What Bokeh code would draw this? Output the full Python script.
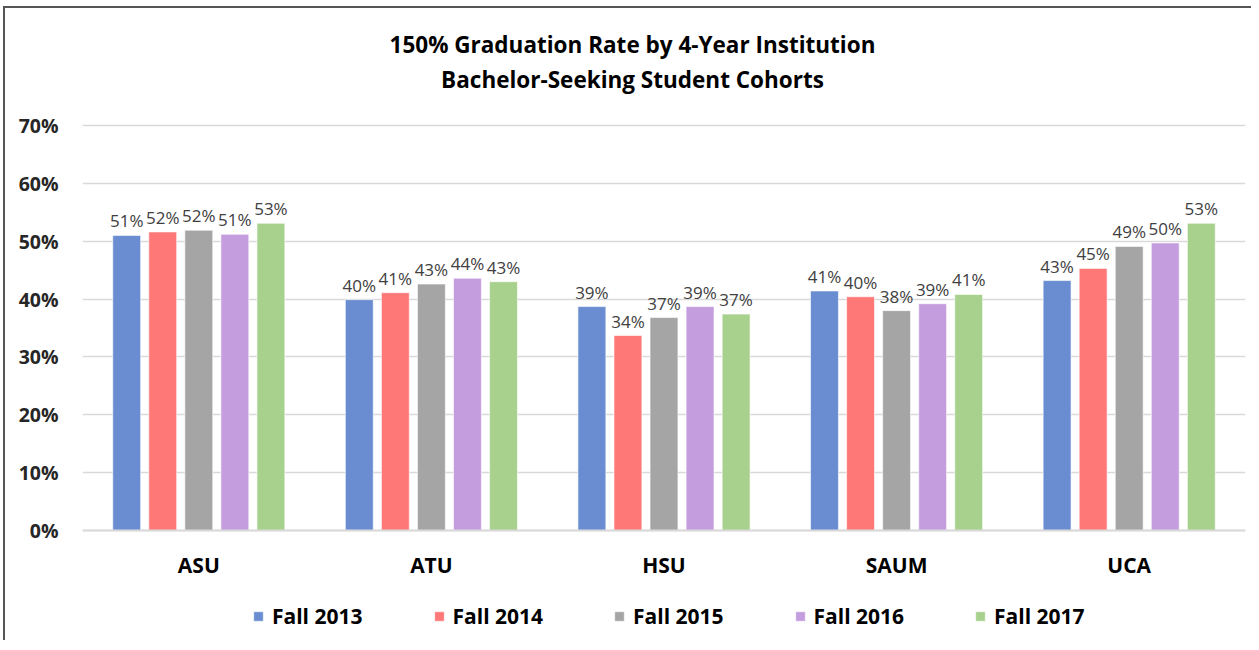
from bokeh.plotting import figure
from bokeh.models import (ColumnDataSource, FactorRange, Legend, LegendItem, LabelSet, Label,
                          NumeralTickFormatter, FixedTicker)
from bokeh.core.properties import value
from bokeh.transform import dodge
from bokeh.embed import file_html
from bokeh.resources import INLINE

institutions = ["ASU", "ATU", "HSU", "SAUM", "UCA"]
series_names = ["Fall 2013", "Fall 2014", "Fall 2015", "Fall 2016", "Fall 2017"]
fall_2013 = [0.510, 0.399, 0.387, 0.414, 0.432]
fall_2014 = [0.516, 0.411, 0.337, 0.404, 0.453]
fall_2015 = [0.519, 0.426, 0.368, 0.380, 0.491]
fall_2016 = [0.512, 0.436, 0.387, 0.392, 0.497]
fall_2017 = [0.531, 0.430, 0.374, 0.408, 0.531]
colors = ["#6A8DD1", "#FF7878", "#A5A5A5", "#C49DDF", "#A9D18E"]
y_ticks = [0, 0.1, 0.2, 0.3, 0.4, 0.5, 0.6, 0.7]
title_lines = ["150% Graduation Rate by 4-Year Institution", "Bachelor-Seeking Student Cohorts"]

all_series = [fall_2013, fall_2014, fall_2015, fall_2016, fall_2017]

FONT = "Open Sans"

# frame spans the whole card; the 0-70% scale is kept by the range ends
p = figure(x_range=FactorRange(*institutions, range_padding=0), y_range=(-0.1867, 0.9005),
           width=1248, height=634, output_backend="svg", toolbar_location=None,
           min_border_left=77, min_border_right=8, min_border_top=1, min_border_bottom=4)

for txt, yy in zip(title_lines, [594, 559]):
    p.add_layout(Label(x=550, y=yy, x_units="screen", y_units="screen", text=txt,
                       text_align="center", text_baseline="middle", text_font=FONT,
                       text_font_size="22.5px", text_font_style="bold", text_color="#000000"))

offsets = [-0.31, -0.155, 0.0, 0.155, 0.31]
items = []
for name, vals, col, off in zip(series_names, all_series, colors, offsets):
    src = ColumnDataSource(dict(inst=institutions, val=vals,
                                lab=["%d%%" % round(v * 100) for v in vals]))
    r = p.vbar(x=dodge("inst", off, range=p.x_range), top="val", width=0.12, source=src,
               fill_color=col, line_color="#FFFFFF", line_alpha=0.6, line_width=1)
    items.append(LegendItem(label=name, renderers=[r]))
    p.add_layout(LabelSet(x=dodge("inst", off, range=p.x_range), y="val", text="lab",
                          source=src, text_align="center", text_baseline="bottom",
                          y_offset=3, text_font=value(FONT), text_font_size=value("17px"),
                          text_color="#404040"))

legend = Legend(items=items, orientation="horizontal", location=(170, 8),
                label_text_font=FONT, label_text_font_size="21px",
                label_text_font_style="bold", label_text_color="#000000",
                glyph_width=12, glyph_height=12, label_standoff=8, spacing=70,
                border_line_color=None, background_fill_alpha=0, margin=0, padding=0)
p.add_layout(legend, "center")

p.yaxis.ticker = FixedTicker(ticks=y_ticks)
p.yaxis.formatter = NumeralTickFormatter(format="0%")
p.yaxis.axis_line_color = None
p.yaxis.major_tick_line_color = None
p.yaxis.minor_tick_line_color = None
p.yaxis.major_label_text_font = FONT
p.yaxis.major_label_text_font_size = "19.5px"
p.yaxis.major_label_text_font_style = "bold"
p.yaxis.major_label_text_color = "#262626"
p.yaxis.major_label_standoff = 18

p.xaxis.fixed_location = 0
p.xaxis.axis_line_color = "#D9D9D9"
p.xaxis.axis_line_width = 2
p.xaxis.major_tick_line_color = None
p.xaxis.minor_tick_line_color = None
p.xaxis.major_label_text_font = FONT
p.xaxis.major_label_text_font_size = "21px"
p.xaxis.major_label_text_font_style = "bold"
p.xaxis.major_label_text_color = "#000000"
p.xaxis.major_label_standoff = 15

p.xgrid.grid_line_color = None
p.ygrid.grid_line_color = "#D9D9D9"
p.ygrid.grid_line_width = 1.5
p.outline_line_color = None
p.background_fill_color = "#FFFFFF"
p.border_fill_color = "#FFFFFF"
p.styles = {"border-top": "2px solid #555", "border-left": "2px solid #555",
            "margin-top": "6px", "margin-left": "3px"}

open("out.html", "w").write(file_html(p, INLINE))
